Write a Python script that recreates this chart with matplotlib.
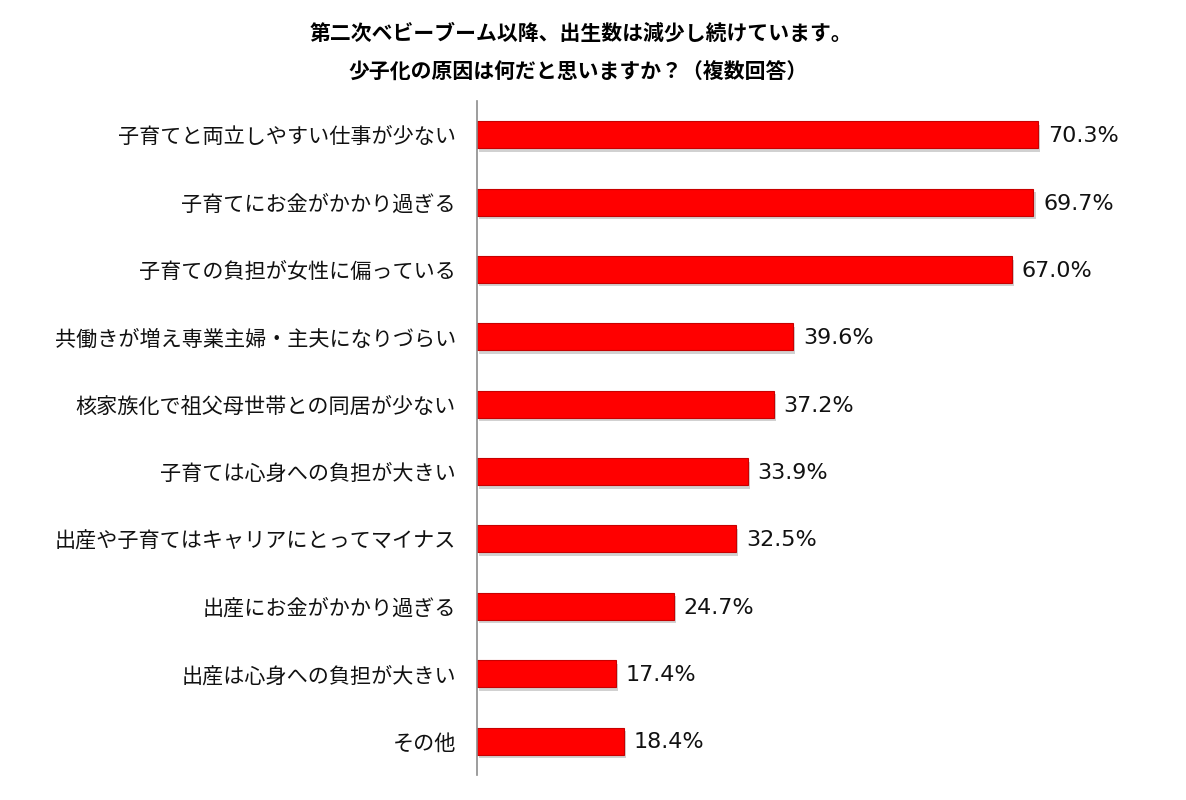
import matplotlib
matplotlib.use('Agg')

import matplotlib.pyplot as plt
import matplotlib.patheffects as pe

plt.rcParams['font.family'] = ['Noto Sans CJK JP', 'DejaVu Sans']

title_lines = ['第二次ベビーブーム以降、出生数は減少し続けています。',
               '少子化の原因は何だと思いますか？（複数回答）']
categories = ['子育てと両立しやすい仕事が少ない', '子育てにお金がかかり過ぎる',
              '子育ての負担が女性に偏っている', '共働きが増え専業主婦・主夫になりづらい',
              '核家族化で祖父母世帯との同居が少ない', '子育ては心身への負担が大きい',
              '出産や子育てはキャリアにとってマイナス', '出産にお金がかかり過ぎる',
              '出産は心身への負担が大きい', 'その他']
values = [70.3, 69.7, 67.0, 39.6, 37.2, 33.9, 32.5, 24.7, 17.4, 18.4]

fig = plt.figure(figsize=(11.86, 8), dpi=100)
ax = fig.add_axes([0.402, 0.0316, 0.598, 0.842])

pos = list(range(len(categories)))
bars = ax.barh(pos, values, height=0.4, color='#ff0000', edgecolor='#c80000',
               linewidth=0.8)
for b in bars:
    b.set_path_effects([pe.SimplePatchShadow(offset=(1.5, -2.5), shadow_rgbFace='#999999', alpha=0.45),
                        pe.Normal()])

ax.set_ylim(len(categories) - 0.5, -0.5)
ax.set_xlim(0, 88.8)
ax.set_yticks(pos)
ax.set_yticklabels(categories, fontsize=15.2, color='#111111')
ax.tick_params(axis='y', length=0, pad=15)
ax.set_xticks([])

for s in ['top', 'right', 'bottom']:
    ax.spines[s].set_visible(False)
ax.spines['left'].set_color('#8c8c8c')
ax.spines['left'].set_linewidth(1.2)

for b, v in zip(bars, values):
    ax.annotate('%.1f%%' % v, (b.get_width(), b.get_y() + b.get_height() / 2),
                xytext=(7, -1), textcoords='offset points', va='center', ha='left',
                fontsize=16, family='DejaVu Sans', color='#111111')

fig.text(0.49, 1 - 33 / 800, title_lines[0], ha='center', va='center',
         fontsize=15.0, fontweight='bold')
fig.text(0.487, 1 - 72 / 800, title_lines[1], ha='center', va='center',
         fontsize=15.0, fontweight='bold')

fig.savefig('out.png', dpi=100, facecolor='white')
plt.close(fig)
